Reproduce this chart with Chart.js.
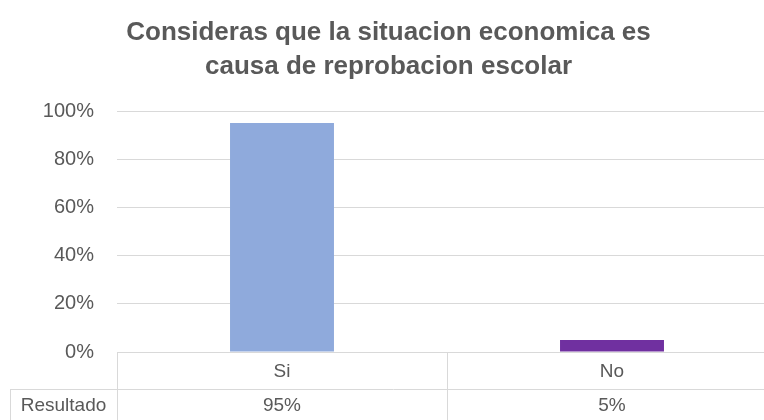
<!DOCTYPE html>
<html>
<head>
<meta charset="utf-8">
<script src="https://cdn.jsdelivr.net/npm/chart.js@4"></script>
<style>
    html, body { margin: 0; padding: 0; background: #fff; overflow: hidden; }
    #wrap { width: 782px; height: 420px; }
</style>
</head>
<body>
<div id="wrap"><canvas id="chartResultado"></canvas></div>
<script>
let categorias = ["Si", "No"];
let valores = [0.95, 0.05];
let coloresBarras = ["#8FAADC", "#7030A0"];
let filaTabla = "Resultado";
let tituloLineas = ["Consideras que la situacion economica es", "causa de reprobacion escolar"];

let textColor = "#595959";
let gridColor = "#d9d9d9";
let fontFamily = "'Liberation Sans', Arial, sans-serif";

function pct(v) {
    return Math.round(v * 100) + "%";
}

// tabla de datos debajo del eje (estilo Excel)
let tablaDatos = {
    id: "tablaDatos",
    afterDraw(chart) {
        let c = chart.ctx;
        let x = chart.scales.x;
        let area = chart.chartArea;
        let filaY = 389;
        let abajo = chart.height;
        let paso = x.getPixelForValue(1) - x.getPixelForValue(0);

        c.save();
        c.strokeStyle = gridColor;
        c.lineWidth = 1;
        c.beginPath();
        // bordes verticales
        for (let i = 0; i <= categorias.length; i++) {
            let px = Math.round(x.getPixelForValue(i) - paso / 2) + 0.5;
            c.moveTo(px, area.bottom);
            c.lineTo(px, abajo);
        }
        // linea de la fila
        c.moveTo(10, filaY + 0.5);
        c.lineTo(area.right, filaY + 0.5);
        c.moveTo(10.5, filaY);
        c.lineTo(10.5, abajo);
        c.stroke();

        c.fillStyle = textColor;
        c.font = "19px " + fontFamily;
        c.textAlign = "center";
        c.textBaseline = "middle";
        c.fillText(filaTabla, (10 + area.left) / 2, 406);
        for (let i = 0; i < valores.length; i++) {
            c.fillText(pct(valores[i]), x.getPixelForValue(i), 406);
        }
        c.restore();
    },
};

let ctx = document.getElementById("chartResultado").getContext("2d");
let myChart = new Chart(ctx, {
    type: "bar",
    data: {
        labels: categorias,
        datasets: [
            {
                label: filaTabla,
                data: valores,
                backgroundColor: coloresBarras,
                borderWidth: 0,
                categoryPercentage: 1,
                barPercentage: 0.315,
            },
        ],
    },
    options: {
        responsive: true,
        maintainAspectRatio: false,
        animation: false,
        layout: {
            padding: { left: 0, right: 5, top: 0, bottom: 0 },
        },
        plugins: {
            legend: { display: false },
            tooltip: { enabled: false },
            title: {
                display: true,
                text: tituloLineas,
                color: textColor,
                font: { family: fontFamily, size: 26, weight: "bold", lineHeight: 34 / 26 },
                padding: { top: 16, bottom: 27 },
            },
        },
        scales: {
            x: {
                grid: { display: false, drawTicks: false },
                border: { display: false },
                ticks: {
                    color: textColor,
                    font: { family: fontFamily, size: 19 },
                    padding: 8,
                },
                afterFit(scale) {
                    scale.height = 68;
                },
            },
            y: {
                min: 0,
                max: 1,
                grid: { color: gridColor, lineWidth: 1, drawTicks: false },
                border: { display: false },
                ticks: {
                    stepSize: 0.2,
                    color: textColor,
                    font: { family: fontFamily, size: 20 },
                    padding: 23,
                    callback: (v) => pct(v),
                },
                afterFit(scale) {
                    scale.width = 117;
                },
            },
        },
    },
    plugins: [tablaDatos],
});
</script>
</body>
</html>
